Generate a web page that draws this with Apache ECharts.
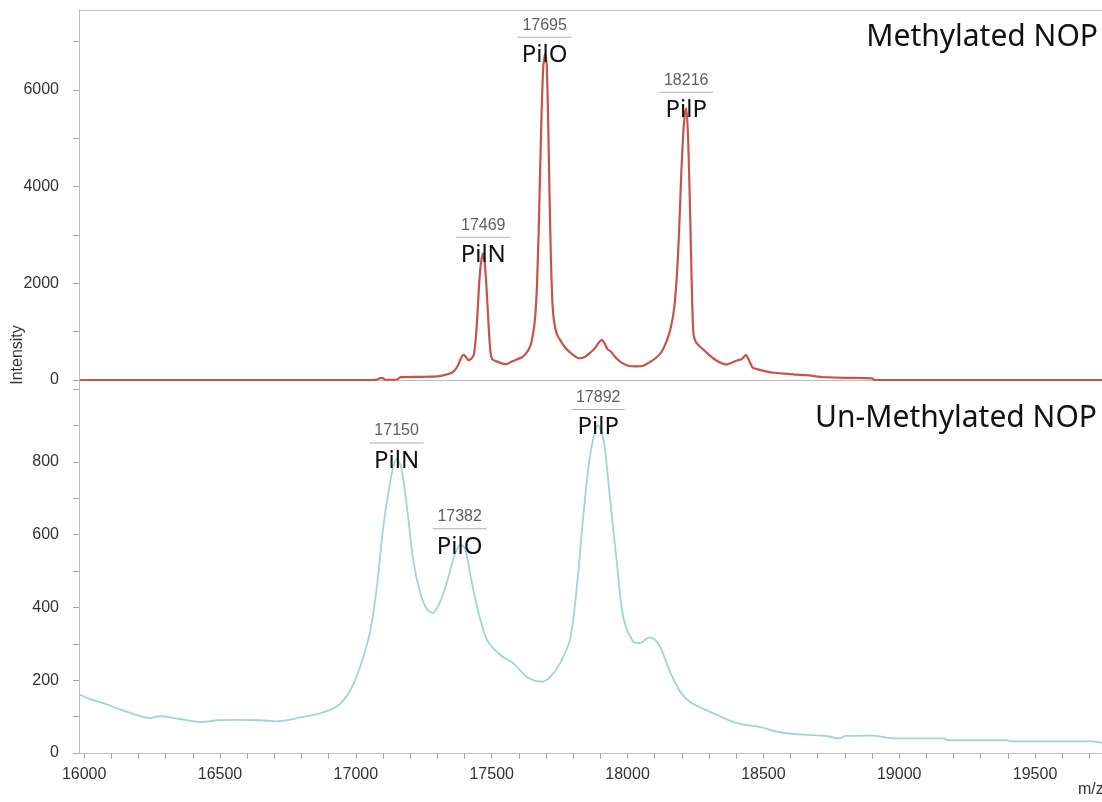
<!DOCTYPE html>
<html>
<head>
<meta charset="utf-8">
<title>Methylated vs Un-Methylated NOP</title>
<script src="https://cdn.jsdelivr.net/npm/echarts@6/dist/echarts.min.js"></script>
<style>
  html, body { margin: 0; padding: 0; background: #fff; }
  #chart { width: 1102px; height: 802px; }
</style>
</head>
<body>
<div id="chart"></div>
<script>
// [m/z, intensity]
const methylatedTrace = [
  [15985, 0], [17060, 0], [17080, 10], [17088, 40], [17100, 40], [17106, 5], [17150, 5],
  [17165, 60], [17240, 65], [17300, 75], [17330, 110], [17358, 170], [17376, 300],
  [17386, 440], [17396, 520], [17405, 480], [17414, 410], [17425, 440], [17434, 520],
  [17442, 900], [17448, 1400], [17454, 2000], [17460, 2400], [17468, 2620], [17474, 2450],
  [17480, 2000], [17486, 1400], [17491, 900], [17496, 560], [17503, 420], [17520, 380],
  [17540, 340], [17556, 330], [17570, 370], [17590, 420], [17612, 470], [17628, 560],
  [17642, 700], [17652, 950], [17660, 1300], [17667, 2000], [17673, 3100], [17679, 4500],
  [17684, 5600], [17690, 6500], [17697, 6760], [17703, 6500], [17708, 5300], [17713, 3800],
  [17718, 2500], [17723, 1650], [17730, 1200], [17740, 950], [17755, 800], [17775, 640],
  [17795, 540], [17820, 450], [17840, 470], [17862, 560], [17880, 660], [17895, 780],
  [17905, 830], [17915, 760], [17926, 640], [17940, 580], [17955, 470], [17975, 370],
  [18000, 300], [18030, 280], [18060, 300], [18085, 380], [18105, 460], [18125, 580],
  [18145, 820], [18160, 1100], [18172, 1500], [18182, 2200], [18190, 3100], [18198, 4300],
  [18205, 5100], [18212, 5550], [18217, 5620], [18223, 5000], [18228, 4000], [18233, 2800],
  [18238, 1600], [18243, 950], [18252, 780], [18265, 700], [18285, 600], [18300, 520],
  [18320, 430], [18345, 350], [18365, 320], [18385, 360], [18405, 410], [18420, 430],
  [18436, 520], [18448, 400], [18460, 260], [18480, 220], [18510, 180], [18540, 150],
  [18580, 130], [18620, 110], [18660, 100], [18700, 70], [18720, 60], [18800, 45],
  [18900, 35], [18910, 0], [19820, 0]
];

const unmethylatedTrace = [
  [15985, 160], [16022, 148], [16070, 137], [16121, 123], [16169, 110], [16243, 96],
  [16265, 100], [16290, 101], [16328, 96], [16380, 90], [16427, 85], [16490, 90],
  [16560, 91], [16648, 90], [16710, 87], [16760, 92], [16795, 98], [16840, 104],
  [16880, 112], [16931, 128], [16960, 150], [16985, 180], [17016, 237], [17053, 335],
  [17078, 460], [17100, 615], [17126, 743], [17150, 808], [17167, 785], [17189, 669],
  [17211, 531], [17237, 440], [17262, 395], [17283, 385], [17310, 415], [17336, 471],
  [17358, 531], [17384, 572], [17402, 562], [17420, 495], [17446, 402], [17483, 310],
  [17531, 270], [17579, 247], [17630, 209], [17685, 196], [17715, 209], [17752, 247],
  [17789, 315], [17815, 468], [17837, 650], [17862, 816], [17892, 900], [17912, 860],
  [17936, 697], [17962, 513], [17984, 375], [18021, 306], [18046, 302], [18080, 318],
  [18100, 312], [18120, 292], [18157, 222], [18194, 168], [18230, 140], [18304, 113],
  [18403, 82], [18488, 71], [18561, 57], [18635, 51], [18735, 46], [18782, 40],
  [18800, 47], [18900, 48], [18978, 40], [19162, 40], [19178, 35], [19397, 35],
  [19408, 32], [19713, 32], [19746, 28], [19820, 27]
];

// labelled peaks: [m/z, apex intensity, protein]
const methylatedPeaks = [[17469, 2620, 'PilN'], [17695, 6760, 'PilO'], [18216, 5620, 'PilP']];
const unmethylatedPeaks = [[17150, 808, 'PilN'], [17382, 572, 'PilO'], [17892, 900, 'PilP']];

const xLabels = [16000, 16500, 17000, 17500, 18000, 18500, 19000, 19500];
const topYLabels = [0, 2000, 4000, 6000];
const bottomYLabels = [0, 200, 400, 600, 800];

const range = (a, b, step) => {
    const out = [];
    for (let v = a; v <= b; v += step) out.push(v);
    return out;
};
const xTicks = range(16000, 19800, 100);
const topYTicks = range(0, 7000, 1000);
const bottomYTicks = range(0, 1000, 100);

const axisGrey = '#bdbdbd';
const tickGrey = '#a8a8a8';
const labelFont = '"Liberation Sans", Arial, sans-serif';
const titleFont = '"Noto Sans", "Open Sans", sans-serif';

const chart = echarts.init(document.getElementById('chart'));

const peakMarks = peaks => ({
    symbol: 'circle',
    symbolSize: 1,
    itemStyle: { color: 'rgba(0,0,0,0)' },
    label: {
        show: true,
        position: 'inside',
        offset: [0, -10],
        formatter: p => `{n|${p.data.mass}}\n{u| }\n{p|${p.data.name}}`,
        rich: {
            n: { fontFamily: labelFont, fontSize: 16, color: '#5f5f5f', lineHeight: 18, align: 'center' },
            u: { fontSize: 1, width: 54, height: 1, lineHeight: 6, backgroundColor: '#b0b0b0', align: 'center' },
            p: { fontFamily: titleFont, fontSize: 24, color: '#111', lineHeight: 30, align: 'center' }
        }
    },
    data: peaks.map(pk => ({ name: pk[2], mass: pk[0], coord: [pk[0], pk[1]] }))
});

const xBase = {
    type: 'value',
    min: 15981,
    max: 19820,
    splitLine: { show: false },
    axisLine: { onZero: false, lineStyle: { color: axisGrey, width: 1 } }
};

const yBase = {
    type: 'value',
    splitLine: { show: false },
    axisLine: { show: true, onZero: false, lineStyle: { color: axisGrey, width: 1 } }
};

const yLabel = values => ({
    customValues: values,
    margin: 20,
    color: '#333',
    fontSize: 16,
    fontFamily: labelFont,
    formatter: v => String(v)
});

const yTick = values => ({
    show: true,
    length: 6,
    customValues: values,
    lineStyle: { color: tickGrey }
});

chart.setOption({
    animation: false,
    backgroundColor: '#fff',
    grid: [
        // right edge runs past the canvas, as in the source figure
        { left: 79, top: 10, width: 1043, height: 370, outerBoundsMode: 'none', containLabel: false },
        { left: 79, top: 380, width: 1043, height: 373, outerBoundsMode: 'none', containLabel: false }
    ],
    xAxis: [
        { ...xBase, gridIndex: 0, position: 'bottom', axisTick: { show: false }, axisLabel: { show: false } },
        { ...xBase, gridIndex: 0, position: 'top', axisTick: { show: false }, axisLabel: { show: false } },
        {
            ...xBase, gridIndex: 1, position: 'bottom',
            axisTick: { show: true, length: 6, customValues: xTicks, lineStyle: { color: tickGrey } },
            axisLabel: {
                customValues: xLabels, margin: 14, color: '#333', fontSize: 16,
                fontFamily: labelFont, formatter: v => String(v)
            }
        }
    ],
    yAxis: [
        { ...yBase, gridIndex: 0, min: 0, max: 7655, axisTick: yTick(topYTicks), axisLabel: yLabel(topYLabels) },
        { ...yBase, gridIndex: 1, min: 0, max: 1025, axisTick: yTick(bottomYTicks), axisLabel: yLabel(bottomYLabels) }
    ],
    series: [
        {
            name: 'Methylated NOP',
            type: 'line',
            xAxisIndex: 0,
            yAxisIndex: 0,
            data: methylatedTrace,
            showSymbol: false,
            smooth: 0.15,
            lineStyle: { color: '#c4544c', width: 2.2 },
            markPoint: peakMarks(methylatedPeaks)
        },
        {
            name: 'Un-Methylated NOP',
            type: 'line',
            xAxisIndex: 2,
            yAxisIndex: 1,
            data: unmethylatedTrace,
            showSymbol: false,
            smooth: 0.3,
            lineStyle: { color: '#9ed5d8', width: 1.8 },
            markPoint: peakMarks(unmethylatedPeaks)
        }
    ],
    graphic: [
        {
            type: 'text', x: 1098, y: 37,
            style: { text: 'Methylated NOP', font: '30px ' + titleFont, fill: '#111', align: 'right', verticalAlign: 'middle' }
        },
        {
            type: 'text', x: 1097, y: 418,
            style: { text: 'Un-Methylated NOP', font: '30px ' + titleFont, fill: '#111', align: 'right', verticalAlign: 'middle' }
        },
        {
            type: 'text', x: 18, y: 355, rotation: Math.PI / 2,
            style: { text: 'Intensity', font: '16px ' + labelFont, fill: '#333', align: 'center', verticalAlign: 'middle' }
        },
        {
            type: 'text', x: 1078, y: 790,
            style: { text: 'm/z', font: '16px ' + labelFont, fill: '#333', align: 'left', verticalAlign: 'middle' }
        }
    ]
});

window.addEventListener('resize', () => chart.resize());
</script>
</body>
</html>
